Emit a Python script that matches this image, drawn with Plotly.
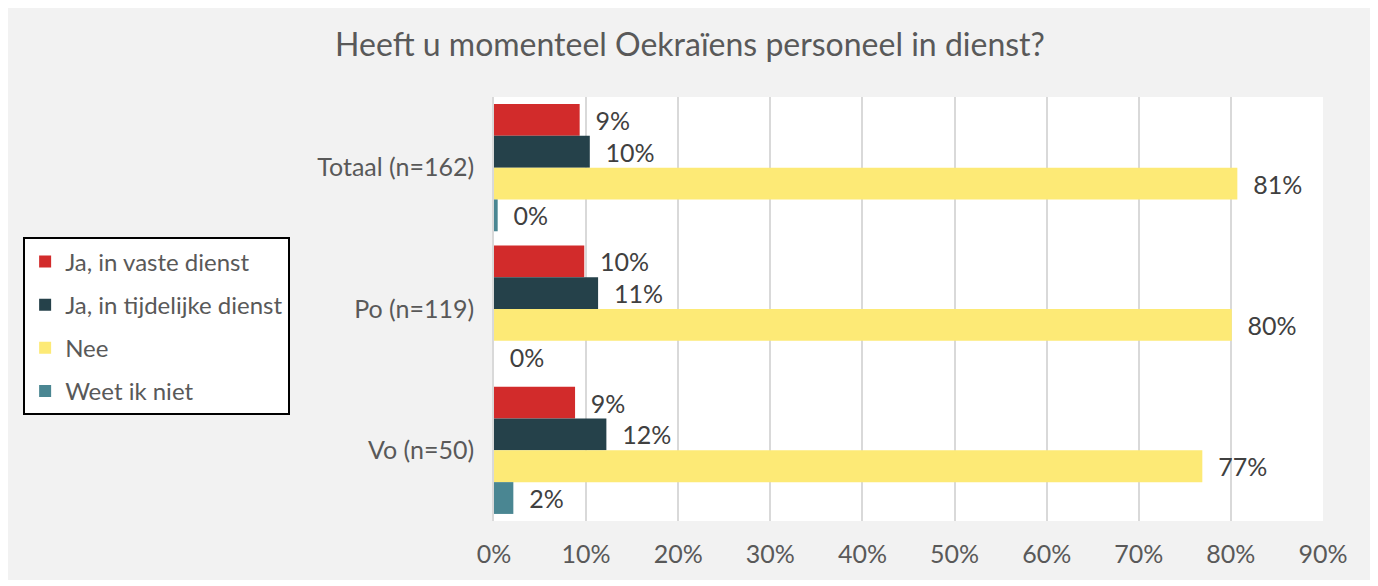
import plotly.graph_objects as go

# categories (top to bottom) and series shares
categories = ["Totaal (n=162)", "Po (n=119)", "Vo (n=50)"]
series_names = ["Ja, in vaste dienst", "Ja, in tijdelijke dienst", "Nee", "Weet ik niet"]
vaste = [0.093, 0.098, 0.088]
tijdelijk = [0.104, 0.113, 0.122]
nee = [0.807, 0.801, 0.769]
weet_niet = [0.004, 0.0, 0.021]
x_ticks = [0, 0.1, 0.2, 0.3, 0.4, 0.5, 0.6, 0.7, 0.8, 0.9]

colors = ["#d22b2b", "#25414a", "#fdea76", "#4a8692"]
FONT = "Lato, 'Noto Sans', sans-serif"
GREY = "#595959"

fig = go.Figure()
for name, vals, color in zip(series_names, [vaste, tijdelijk, nee, weet_niet], colors):
    fig.add_trace(
        go.Bar(
            y=categories,
            x=vals,
            name=name,
            orientation="h",
            marker=dict(color=color, line=dict(width=0)),
            texttemplate="\u00a0\u00a0%{x:.0%}",
            textposition="outside",
            textfont=dict(size=25, color="#404040", family=FONT),
            cliponaxis=False,
            legendgroup=name,
        )
    )

fig.update_layout(
    width=1364,
    height=572,
    barmode="group",
    bargap=0.1,
    bargroupgap=0,
    paper_bgcolor="#f2f2f2",
    plot_bgcolor="white",
    font=dict(family=FONT, color=GREY, size=24),
    title=dict(
        text="Heeft u momenteel Oekraïens personeel in dienst?",
        x=0.5,
        xanchor="center",
        y=0.935,
        yanchor="middle",
        font=dict(size=32, color=GREY, family=FONT),
    ),
    margin=dict(l=486, r=49, t=89, b=57),
    legend=dict(
        x=-0.568,
        xanchor="left",
        y=0.669,
        yanchor="top",
        bgcolor="white",
        bordercolor="black",
        borderwidth=2,
        font=dict(size=24, color=GREY, family=FONT),
        traceorder="grouped",
        tracegroupgap=9,
        itemwidth=30,
    ),
    uniformtext=dict(minsize=24),
)

fig.update_xaxes(
    range=[0, 0.9],
    tickvals=x_ticks,
    tickformat=".0%",
    showgrid=True,
    gridcolor="#d9d9d9",
    gridwidth=2,
    zeroline=False,
    showline=False,
    ticks="",
    ticklabelstandoff=16,
    tickfont=dict(size=25, color=GREY),
)
fig.update_yaxes(
    autorange="reversed",
    showline=True,
    linecolor="#d9d9d9",
    linewidth=2,
    ticks="",
    ticksuffix="  ",
    tickfont=dict(size=25, color=GREY),
)

fig.write_html("out.html")
